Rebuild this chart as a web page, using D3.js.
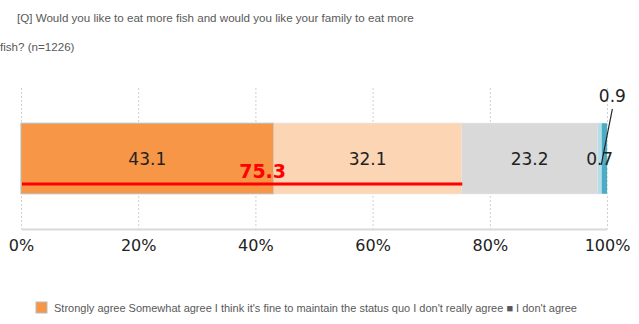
<!DOCTYPE html>
<html><head><meta charset="utf-8">
<script src="https://cdn.jsdelivr.net/npm/d3@7"></script>
<style>body{margin:0;background:#fff}svg{display:block}</style>
</head><body>
<script>
const categories = ["Strongly agree","Somewhat agree","I think it's fine to maintain the status quo","I don't really agree","I don't agree"];
const values = [43.1, 32.1, 23.2, 0.7, 0.9];
const colors = ["#F79646","#FCD5B5","#D9D9D9","#B7DEE8","#4BACC6"];
const tickValues = [0,20,40,60,80,100];
const totalAgree = 75.3;
const titleLines = ["[Q] Would you like to eat more fish and would you like your family to eat more","fish? (n=1226)"];

const W=639,H=324;
const svg=d3.select("body").append("svg").attr("width",W).attr("height",H);
const x=d3.scaleLinear().domain([0,100]).range([21,607]);
const y=d3.scaleBand().domain(["row"]).range([88,229]).paddingInner(0).paddingOuter(0.5);
const by=y("row"), bh=y.bandwidth();

svg.append("text").attr("x",17).attr("y",22).attr("font-family","Liberation Sans, Arial").attr("font-size",11.6).attr("fill","#595959").text(titleLines[0]);
svg.append("text").attr("x",0).attr("y",51).attr("font-family","Liberation Sans, Arial").attr("font-size",11.6).attr("fill","#595959").text(titleLines[1]);

// grid
svg.append("g").selectAll("line").data(tickValues).join("line")
 .attr("x1",d=>x(d)+0.5).attr("x2",d=>x(d)+0.5).attr("y1",88).attr("y2",229)
 .attr("stroke","#d0d0d0").attr("stroke-dasharray","2,2");

// axis
const ax=svg.append("g").attr("transform","translate(0,229)")
 .call(d3.axisBottom(x).tickValues(tickValues).tickFormat(d=>d+"%").tickSize(0).tickPadding(11));
ax.select(".domain").attr("stroke","#d9d9d9").attr("stroke-width",2);
ax.selectAll("text").attr("font-family","DejaVu Sans, Verdana").attr("font-size",16).attr("fill","#222");

// stack
let cum=0;
const segs=values.map((v,i)=>{const s={v,i,x0:cum,x1:cum+v};cum+=v;return s;});
svg.append("rect").attr("x",x(0)).attr("y",by).attr("width",x(100)-x(0)).attr("height",bh)
 .attr("fill","none").attr("stroke","#e6e6e6").attr("stroke-width",1);
svg.append("g").selectAll("rect").data(segs).join("rect")
 .attr("x",d=>x(d.x0)).attr("y",by).attr("width",d=>x(d.x1)-x(d.x0)).attr("height",bh)
 .attr("fill",d=>colors[d.i]).attr("stroke",d=>d.i===0?"#bbbbbb":"none").attr("stroke-width",1);

// labels
svg.append("g").selectAll("text").data(segs.slice(0,4)).join("text")
 .attr("x",d=>x((d.x0+d.x1)/2)).attr("y",by+bh/2+1)
 .attr("text-anchor","middle").attr("dominant-baseline","middle")
 .attr("font-family","DejaVu Sans, Verdana").attr("font-size",17).attr("fill","#222").text(d=>d.v);
const last=segs[4];
svg.append("text").attr("x",x((last.x0+last.x1)/2)+8).attr("y",102).attr("text-anchor","middle")
 .attr("font-family","DejaVu Sans, Verdana").attr("font-size",17).attr("fill","#222").text(last.v);
svg.append("line").attr("x1",x((last.x0+last.x1)/2)+8).attr("y1",109).attr("x2",x(last.x0)-0.5).attr("y2",165)
 .attr("stroke","#222").attr("stroke-width",1.2);

// red line
svg.append("line").attr("x1",x(0)+1).attr("x2",x(totalAgree)).attr("y1",184).attr("y2",184)
 .attr("stroke","#ff0000").attr("stroke-width",3);
svg.append("text").attr("x",x(totalAgree/2)+21).attr("y",178).attr("text-anchor","middle")
 .attr("font-family","DejaVu Sans, Verdana").attr("font-weight","bold").attr("font-size",19).attr("fill","#ff0000").text(totalAgree);

// legend
svg.append("rect").attr("x",36).attr("y",302).attr("width",11).attr("height",11).attr("fill",colors[0]).attr("stroke","#bbb");
svg.append("text").attr("x",54).attr("y",312).attr("font-family","Liberation Sans, Arial").attr("font-size",11).attr("fill","#595959")
 .text(categories.slice(0,4).join(" ")+" \u25A0 "+categories[4]);
</script>
</body></html>
